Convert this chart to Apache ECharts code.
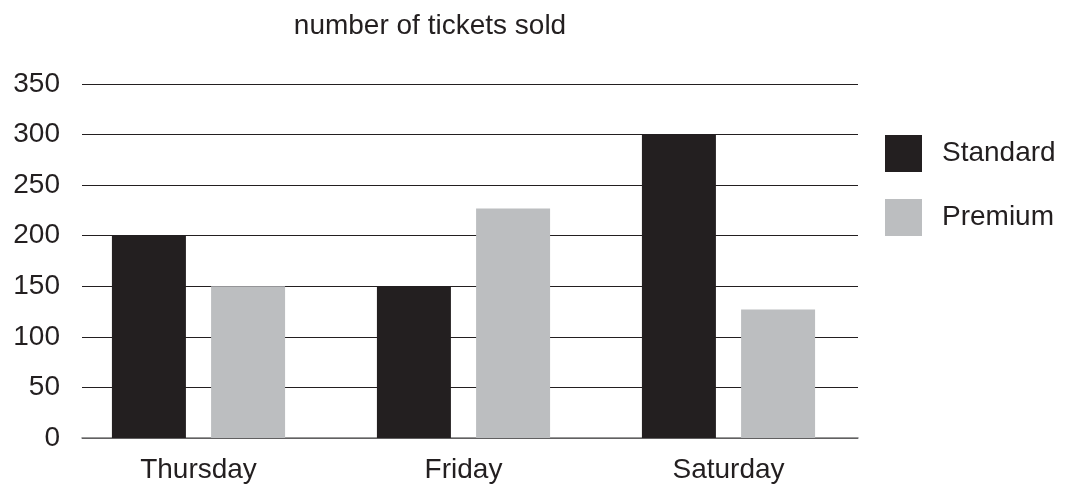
<!DOCTYPE html>
<html>
<head>
<meta charset="utf-8">
<script src="https://cdn.jsdelivr.net/npm/echarts@6/dist/echarts.min.js"></script>
<style>html,body{margin:0;padding:0;background:#fff;}#c{width:1067px;height:491px;}</style>
</head>
<body>
<div id="c"></div>
<script>
const categories = ['Thursday', 'Friday', 'Saturday'];
const standard = [200, 150, 300];
const premium = [150, 227, 127];
const yTicks = { min: 0, max: 350, interval: 50 };

const chart = echarts.init(document.getElementById('c'));
const font = 'Liberation Sans, Arial, sans-serif';
const ink = '#231f20';
chart.setOption({
  animation: false,
  textStyle: { fontFamily: font },
  title: {
    text: 'number of tickets sold', left: 425, top: 7, textAlign: 'center',
    textStyle: { fontFamily: font, fontSize: 28, fontWeight: 'normal', color: ink }
  },
  legend: {
    orient: 'vertical', left: 880, top: 130, itemWidth: 37, itemHeight: 37, itemGap: 27,
    icon: 'rect',
    textStyle: { fontFamily: font, fontSize: 28, color: ink, padding: [0, 0, 0, 15] },
    data: ['Standard', 'Premium']
  },
  grid: [
    { left: 82, right: 209, top: 84, bottom: 53 },
    { left: 66, right: 206, top: 84, bottom: 53 }
  ],
  xAxis: [
    { type: 'category', gridIndex: 0, data: categories, axisLabel: { show: false }, axisTick: { show: false },
      axisLine: { show: true, lineStyle: { color: '#777', width: 1.5 } } },
    { type: 'category', gridIndex: 1, data: categories, axisTick: { show: false }, axisLine: { show: false },
      axisLabel: { fontFamily: font, fontSize: 28, color: ink, margin: 18 } }
  ],
  yAxis: [
    { type: 'value', gridIndex: 0, min: yTicks.min, max: yTicks.max, interval: yTicks.interval,
      axisLine: { show: false }, axisTick: { show: false },
      axisLabel: { fontFamily: font, fontSize: 28, color: ink, margin: 22 },
      splitLine: { lineStyle: { color: ink, width: 1 } } },
    { type: 'value', gridIndex: 1, min: yTicks.min, max: yTicks.max, interval: yTicks.interval,
      show: false, splitLine: { show: false } }
  ],
  series: [
    { name: 'Standard', type: 'bar', xAxisIndex: 1, yAxisIndex: 1, data: standard, barWidth: 74, barGap: '34%',
      itemStyle: { color: ink } },
    { name: 'Premium', type: 'bar', xAxisIndex: 1, yAxisIndex: 1, data: premium, barWidth: 74, barGap: '34%',
      itemStyle: { color: '#bcbec0' } }
  ]
});
</script>
</body>
</html>
